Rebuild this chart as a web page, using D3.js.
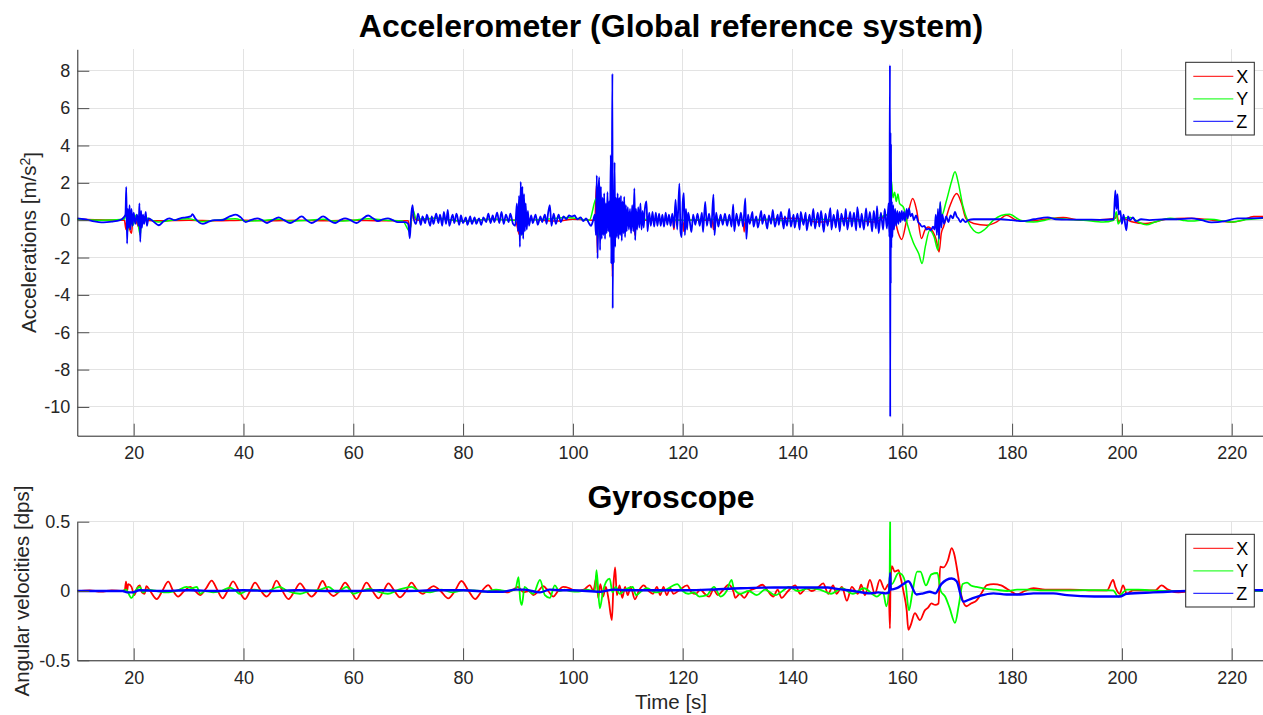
<!DOCTYPE html>
<html>
<head>
<meta charset="utf-8">
<script src="https://cdn.jsdelivr.net/npm/d3@7"></script>
<style>
  html, body { margin: 0; padding: 0; background: #fff; }
  svg { display: block; font-family: "Liberation Sans", Arial, Helvetica, sans-serif; }
  .grid line { stroke: #e3e3e3; stroke-width: 1; shape-rendering: crispEdges; }
  .axis path { stroke: #262626; stroke-width: 1; }
  .axis line { stroke: #4d4d4d; stroke-width: 1; }
  .axis text { fill: #262626; font-size: 18px; font-family: "Liberation Sans", Arial, sans-serif; }
  .title { font-weight: bold; font-size: 32px; fill: #000; }
  .label { font-size: 20.5px; fill: #262626; }
  .legend text { font-size: 18px; fill: #000; }
</style>
</head>
<body>
<svg id="chart" width="1263" height="715"></svg>
<script>
// tick values
const timeTicks = [20, 40, 60, 80, 100, 120, 140, 160, 180, 200, 220];
const accTicks = [-10, -8, -6, -4, -2, 0, 2, 4, 6, 8];
const gyroTicks = [-0.5, 0, 0.5];
const seriesNames = ['X', 'Y', 'Z'];
const seriesColors = ['#ff0000', '#00ff00', '#0000ff'];

// accelerometer [time s, m/s^2]
const accX = [
  [9.73,0.05],[13,0.02],[18.3,0],[18.6,-0.5],[18.8,0.3],[19.2,-0.4],[19.6,-0.7],[19.9,0.2],[20.5,-0.1],[21.2,-0.5],[21.5,0.2],[22,0],
  [25,-0.03],[30,0],[35,-0.03],[40,0],[45,-0.03],[50,0],[55,-0.03],[60,0],[65,-0.03],[70,-0.03],[70.3,-0.5],[70.8,0.3],[71.5,0],
  [75,0.1],[80,-0.05],[85,0.05],[89.5,0],[90.3,-0.8],[90.5,1.2],[90.7,0],[92,0.05],[97,-0.05],[100,0.05],[104,0],
  [104.3,1.87],[104.45,-1.77],[104.6,0.5],[104.8,-0.5],[105.0,0.5],[105.2,-0.5],[105.5,0.3],[106.0,-0.3],[106.8,0.8],[107.1,0],
  [107.2,-3.03],[107.35,0.5],[107.6,-0.4],[108,0.2],[108.5,-0.3],[109,0.2],[109.5,-0.3],[110,0.1],[111.1,0],[111.3,-0.8],[111.5,0],
  [113,0],[118.2,0],[118.4,-0.5],[118.6,0],[120.0,0],[120.2,-0.6],[120.4,0],[125.4,0],[125.6,-0.5],[125.8,0],[131.0,0],[131.2,-0.63],
  [131.4,0],[133,0],[140,0.1],[145,-0.1],[150,0.1],[155,-0.1],[157.5,0.3],[157.8,-0.5],
  [158.2,0.5],[158.6,0.1],[159.3,-0.71],[159.9,-1.03],[160.8,0],[161.9,1.16],[162.6,0.55],[163.5,-0.98],[164.1,-0.54],[164.7,-0.36],
  [165.6,-0.63],[166.2,-1.07],[166.7,-1.7],[167.1,-0.7],[167.5,-0.36],[168.6,0.71],[169.9,1.43],[170.8,0.89],[171.6,0.09],[173,-0.18],
  [175.4,-0.27],[177.2,-0.09],[179,0.27],[180.8,0],[183.3,-0.05],[186,0.05],[189.3,0.15],[192.3,0],[196,0.02],[198.8,0.1],[199.1,0.3],
  [199.4,-0.1],[200,0.1],[202,-0.1],[204,-0.18],[206,-0.1],[208,0.05],[212,0.1],[215,0.05],[218,-0.05],[220.3,-0.1],[222,0],[224,0.2],[225.7,0.2]
];
const accY = [
  [9.73,0.05],[14,0],[18.3,0.05],[18.7,0.4],[18.9,-0.6],[19.3,0.5],[19.8,-0.3],[20.5,0.3],[21.2,-0.8],[21.5,0.2],[22.5,0.1],[24.5,-0.1],
  [27,0],[30,0.08],[32.5,-0.08],[35,0],[38.5,0.08],[40.5,-0.05],[44,0],[46.5,0.05],[48.5,-0.05],[52,0],[54.5,0.05],[56.7,-0.05],[60,0],
  [62.7,0.08],[66,0],[69,-0.05],[70.3,-0.6],[70.8,0.6],[71.5,0.05],[75,0.1],[80,-0.05],[85,0.05],[89.5,0],[90.4,1.0],[90.7,-0.8],[91,0],
  [95,0.05],[99,0.15],[100.5,0.1],[103,0],[104.3,1.2],[104.5,-1.0],[105.5,1.07],[106,-0.5],[107.2,1.5],[107.4,-1.0],[108,0.3],[109,-0.2],
  [110,0],[115,0.05],[120,0],[125,0.05],[130,0],[135,0.05],[140,-0.05],[145,0.05],[150,-0.05],[155,0.05],[157.5,0.3],[157.7,-0.5],
  [157.8,4.7],[157.9,1.0],[158.0,2.14],[158.3,1.2],[158.6,1.5],[158.9,1.0],[159.2,1.4],[159.5,0.9],[160.2,0.7],[161.0,-0.3],[162.0,-1.2],
  [163.0,-1.8],[163.6,-2.32],[164.2,-1.4],[165.0,-0.54],[165.8,-0.9],[166.5,-1.6],[166.9,0.9],[167.1,0.2],[168.0,1.0],[169.0,2.1],
  [169.6,2.59],[170.2,2.0],[171.0,0.8],[172.0,-0.1],[173.0,-0.55],[173.9,-0.68],[175.0,-0.5],[176.6,0],[178,0.25],[179.5,0.32],[181.5,0],
  [183.9,-0.1],[186,0],[187.5,0.1],[190,0.05],[193,0],[196.6,-0.1],[198.5,0],[199,0.45],[199.3,-0.2],[200,0.1],[201.6,0.15],[203,-0.1],
  [204.5,-0.25],[206,-0.1],[208.8,0.1],[211,0],[212.5,-0.05],[216,0.05],[220.1,-0.1],[222,0],[225.7,0.1]
];
const accZ = [
  [9.73,0.1],[11,0.05],[12.5,-0.05],[14.5,-0.12],[16,-0.08],[17.5,0],[18.2,0.15],[18.5,0.3],[18.65,1.78],[18.8,-1.25],[18.95,0.6],
  [19.1,-0.4],[19.25,0.8],[19.4,-0.5],[19.6,0.6],[19.8,-0.3],[20.0,0.4],[20.3,-0.2],[20.6,0.3],[20.9,-0.3],[21.05,0.9],[21.2,-1.16],
  [21.35,0.5],[21.5,-0.4],[21.7,0.3],[21.9,-0.2],[22.2,0.45],[22.4,-0.3],[22.7,0.1],[23.3,0],[24.6,-0.27],[25.5,-0.05],[26.5,0.1],
  [27.5,0],[28.5,0.1],[29.5,0.15],[30.4,0.2],[30.7,0.32],[31.2,0.1],[32.6,-0.2],[33.5,-0.1],[34.7,0],[36,0],[37.5,0.2],[38.6,0.3],
  [39.5,0.15],[40.4,-0.1],[41.3,0],[42.5,0.1],[43.4,0],[44.3,-0.15],[45.3,0],[46.4,0.15],[47.4,0],[48.5,-0.15],[49.5,0],[50.6,0.2],
  [51.5,0],[52.4,-0.15],[53.4,0],[54.5,0.2],[55.6,0],[56.7,-0.15],[57.6,0],[58.5,0.1],[59.5,0],[60.6,-0.15],[61.6,0.05],[62.7,0.25],
  [63.6,0.1],[64.5,-0.05],[65.4,0.05],[66.3,0.1],[67.2,0],[68.1,-0.1],[69.5,-0.1],[70.0,-0.2],[70.3,-0.97],[70.5,0.1],[70.8,0.8],[71.0,0.1],
  [71.4,-0.2],[71.8,0.35],[72.3,-0.25],[72.6,0.2],[73.1,-0.15],[73.4,0.3],[74,-0.3],[74.3,0.2],[74.6,-0.2],[75.1,0.35],[75.5,-0.15],
  [75.8,0.3],[76.2,-0.3],[76.5,0.45],[76.9,-0.2],[77.2,0.55],[77.5,-0.3],[78.1,0.3],[78.4,-0.15],[78.8,0.35],[79.3,-0.25],[79.6,0.25],
  [80,-0.15],[80.5,0.15],[80.8,-0.25],[81.3,0.2],[81.6,-0.2],[82.1,0.15],[82.4,-0.2],[82.9,0.1],[83.3,-0.25],[83.7,0.15],[84.2,-0.1],
  [84.6,0.35],[85,-0.15],[85.4,0.25],[85.7,-0.1],[86.2,0.4],[86.6,-0.15],[87,0.45],[87.4,-0.2],[87.8,0.3],[88.3,-0.1],[88.6,0.35],
  [89.1,-0.2],[89.5,-0.3],[89.8,0.9],[90.0,-0.6],[90.2,1.3],[90.35,-1.43],[90.5,2.05],[90.65,-0.8],[90.8,1.8],[90.95,-1.0],[91.1,1.4],
  [91.25,-0.6],[91.4,0.9],[91.6,-0.5],[91.8,0.5],[92.0,-0.3],[92.4,0.25],[92.7,-0.15],[93.2,0.3],[93.6,-0.25],[94.1,0.2],[94.4,-0.1],
  [94.9,0.3],[95.2,-0.2],[95.5,0.4],[95.8,0.8],[96.1,-0.3],[96.5,0.35],[96.9,-0.2],[97.4,0.3],[97.8,-0.1],[98.3,0.2],[98.8,0.05],
  [99.3,0.25],[99.8,0.2],[100.3,0.25],[100.8,0.05],[101.4,0.15],[101.9,-0.05],[102.4,0.1],[102.9,-0.15],[103.3,-0.3],[103.7,0.0],
  [104.0,0.3],[104.2,-0.8],[104.35,2.4],[104.5,-2.05],[104.65,1.5],[104.8,2.3],
  [104.95,-1.6],[105.1,1.8],[105.25,-1.0],[105.4,1.2],[105.55,-0.8],[105.7,1.44],[105.85,-1.0],[106.0,0.9],[106.15,-0.7],[106.3,1.5],
  [106.45,-0.6],[106.6,1.0],[106.75,-0.9],[106.9,3.48],[107.0,-2.3],[107.1,2.0],[107.2,7.85],[107.25,-4.73],[107.35,1.5],[107.45,-2.3],
  [107.6,3.1],[107.7,-1.43],[107.85,1.2],[108.0,-0.9],[108.15,1.44],[108.3,-1.0],[108.45,1.2],[108.6,-0.8],[108.75,1.3],[108.9,-1.1],
  [109.05,1.0],[109.2,-0.7],[109.35,1.25],[109.5,-0.9],[109.65,0.8],[109.8,-0.6],[110.0,0.7],[110.2,-0.5],[110.4,0.6],[110.6,-0.7],
  [110.8,0.8],[111.0,-0.6],[111.2,1.7],[111.35,-1.07],[111.5,0.6],[111.7,-0.5],[111.9,0.7],[112.1,-0.4],[112.3,0.9],[112.5,-0.5],
  [112.7,0.5],[112.9,-0.4],[113.1,0.6],[113.4,1.0],[113.6,-0.6],[113.9,0.4],[114.2,-0.3],[114.5,0.45],[114.8,-0.35],[115.1,0.4],
  [115.4,-0.3],[115.7,0.35],[116.0,-0.3],[116.3,0.3],[116.6,-0.35],[116.9,0.4],[117.2,-0.25],[117.5,0.3],[117.8,-0.3],[118.1,0.35],
  [118.4,-0.4],[118.7,1.1],[119.0,-0.5],[119.4,1.96],[119.6,-0.6],[119.8,-0.9],[120.0,0.9],[120.2,1.45],[120.4,-0.8],[120.6,0.6],
  [120.8,-0.5],[121.0,0.4],[121.4,-0.3],[121.6,-0.63],[121.9,0.3],[122.3,-0.25],[122.7,0.35],[123.1,-0.3],[123.5,0.4],[123.7,-0.63],
  [124.1,0.98],[124.4,-0.3],[124.8,0.35],[125.2,-0.4],[125.6,1.37],[125.8,-0.8],[126.1,0.4],[126.5,-0.35],[126.9,0.3],[127.3,-0.25],
  [127.7,0.35],[128.1,-0.3],[128.5,0.3],[128.9,-0.35],[129.2,0.85],[129.4,-0.6],[129.8,0.35],[130.2,-0.3],[130.6,0.4],[131.0,-0.35],
  [131.4,1.16],[131.6,-1.0],[131.9,0.3],[132.2,-0.2],[132.7,0.45],[132.9,-0.35],[133.4,0.2],[133.7,-0.4],[134.3,0.5],[134.5,-0.2],
  [134.9,0.3],[135.4,-0.45],[135.7,0.25],[136.1,-0.2],[136.4,0.55],[136.8,-0.35],[137.3,0.3],[137.5,-0.25],[137.9,0.45],[138.4,-0.45],
  [138.6,0.2],[139.0,-0.3],[139.4,0.6],[139.7,-0.35],[140.2,0.3],[140.4,-0.4],[140.9,0.35],[141.3,-0.5],[141.5,0.45],[142.0,-0.25],
  [142.4,0.4],[142.6,-0.55],[143.1,0.3],[143.4,-0.3],[143.8,0.6],[144.1,-0.45],[144.6,0.4],[144.9,-0.35],[145.2,0.5],[145.7,-0.63],
  [146.0,0.35],[146.4,-0.3],[146.9,0.65],[147.1,-0.5],[147.5,0.3],[147.9,-0.4],[148.2,0.55],[148.6,-0.6],[148.9,0.35],[149.4,-0.3],
  [149.7,0.6],[150.0,-0.5],[150.5,0.45],[150.8,-0.35],[151.2,0.4],[151.6,-0.55],[151.8,0.7],[152.3,-0.4],[152.6,0.35],[153.0,-0.5],
  [153.4,0.63],[153.7,-0.3],[154.1,0.45],[154.5,-0.6],[154.8,0.5],[155.2,-0.45],[155.4,0.75],[155.7,-0.7],[156.1,0.4],[156.5,-0.5],
  [156.8,0.6],[157.2,-0.45],[157.5,0.9],[157.65,-0.9],[157.75,8.3],[157.8,-10.53],
  [157.85,4.7],[157.9,-3.4],[157.95,4.1],[158.0,-1.5],[158.1,1.0],[158.2,-0.9],[158.35,0.8],[158.5,-0.5],[158.7,0.6],[158.9,-0.3],
  [159.1,0.5],[159.3,-0.2],[159.5,0.45],[159.7,-0.1],[159.9,0.5],[160.1,0.0],[160.3,0.45],[160.5,-0.05],[160.8,0.6],[161.0,0.1],
  [161.2,0.63],[161.5,0.2],[161.8,0.35],[162.1,0.0],[162.5,0.25],[162.9,-0.1],[163.2,-0.2],[163.6,-0.35],[164.0,-0.3],[164.4,-0.5],
  [164.8,-0.45],[165.2,-0.54],[165.6,-0.35],[165.9,-0.5],[166.1,0.3],[166.3,-0.8],[166.5,0.6],[166.7,-1.0],[166.9,0.98],[167.1,-0.4],
  [167.3,0.3],[167.6,-0.2],[168.0,0.2],[168.4,-0.1],[168.8,0.25],[169.2,0.1],[169.6,0.45],[169.9,0.2],[170.2,0.1],[170.6,-0.1],
  [171.0,0.05],[171.5,-0.1],[172,0],[173,0.05],[175,0.05],[178,0.05],[180,0.0],[182,-0.05],[184,0.05],[186.5,0.15],[188,0.05],
  [190,0.03],[193,0.03],[196,0.02],[198.5,0.05],[198.8,1.6],[199.0,0.6],[199.2,1.4],[199.4,0.3],[199.7,0.5],[200.0,-0.2],[200.3,0.3],
  [200.8,-0.54],[201.1,0.2],[201.5,0.0],[202.0,0.15],[202.5,-0.05],[203.5,0.05],[205,0.0],[208,0.05],[210,0.05],[212.7,0.1],
  [214.5,0.0],[216.3,-0.12],[218.8,-0.05],[221,0.1],[223,0.1],[225.7,0.12]
];

// gyroscope [time s, dps]
const gyroX = [
  [9.73,0],[12,0.005],[14,-0.005],[16,0.005],[18,0],[18.4,0.01],[18.6,0.067],[18.8,0.0],[19.0,0.05],[19.6,0.03],[20.1,-0.03],[20.6,0.02],
  [21.1,0.04],[21.5,-0.01],[22,-0.02],[22.3,0.035],[23,0],[24.2,-0.058],[25.2,0],[26.3,0.067],[27.2,0],[28.1,-0.04],[29.2,0],[30.3,0.03],
  [31.2,0],[32.1,-0.03],[33.2,0.02],[34.2,0.075],[35.2,0.01],[36.2,-0.053],[37.1,0],[38.1,0.07],[39.2,0],[40.3,-0.058],[41.2,0],
  [42.1,0.06],[43.2,0],[44.2,-0.04],[45.1,0],[46.0,0.075],[47.1,0],[48.2,-0.058],[49.3,0],[50.3,0.055],[51.4,0],[52.4,-0.04],[53.4,0],
  [54.4,0.072],[55.4,0],[56.4,-0.036],[57.5,0],[58.5,0.06],[59.6,0],[60.6,-0.058],[61.5,0],[62.4,0.06],[63.5,0],[64.6,-0.053],[65.5,0],
  [66.4,0.055],[67.5,0],[68.5,-0.046],[69.6,0],[70.6,0.06],[71.6,0.01],[72.7,-0.02],[73.6,0.01],[74.6,0.035],[75.9,0],[77.3,-0.053],
  [78.5,0],[79.7,0.072],[81,0],[82.2,-0.058],[83.4,0],[84.6,0.043],[85.5,0],[86.5,0.005],[88,-0.01],[89.1,0.01],[90,0.03],[91,-0.01],
  [92,0],[92.8,-0.03],[93.7,0],[94.6,0.035],[95.5,0],[96.4,-0.04],[97.3,0],[98.2,0.03],[99.4,0.02],[100.5,0],[102,0.01],[103.1,0.043],
  [103.7,0],[104.3,0.1],[104.6,-0.05],[105,0.05],[105.5,-0.04],[106,0.03],[106.5,-0.06],[107.1,-0.21],[107.4,0.05],[107.7,0.17],
  [108,-0.03],[108.5,0.04],[109,-0.05],[109.5,0.03],[110,-0.03],[110.5,0.03],[111.3,-0.06],[112,0],[112.9,0.04],[113.8,0],[114.6,-0.02],
  [115.3,0.03],[115.9,-0.03],[116.5,0.03],[117.1,-0.03],[117.7,0.02],[118.3,-0.02],[119.5,0.01],[120.8,0.04],[121.6,-0.01],[122.4,-0.02],
  [123.2,0.01],[124,-0.02],[124.8,-0.04],[125.6,0.01],[126.4,-0.03],[127.2,0],[128.4,0.045],[129.2,0],[129.6,-0.05],[130.4,-0.02],
  [131.2,-0.05],[132.1,0],[133.3,0.02],[134.5,0.045],[135.5,0],[136.5,-0.04],[137.3,0.01],[138,-0.05],[139.2,0],[140.5,0.04],
  [141.4,-0.02],[142.5,0.02],[143.5,0],[144.5,0.02],[145.6,0.055],[146.5,-0.02],[147.4,0.04],[148,-0.02],[149,0.03],[149.9,-0.07],
  [150.8,0.03],[151.9,-0.02],[152.5,0.045],[153.2,-0.03],[154.1,0.08],[155,-0.02],[155.9,0.08],[156.8,0.01],[157.5,0.05],[157.75,-0.27],
  [157.85,0.05],[158.1,0.18],[158.6,0.14],[159.3,0.15],[159.6,0.11],[160.2,0.0],[160.8,-0.14],[161.1,-0.28],[161.5,-0.25],[162.3,-0.16],
  [163.2,-0.21],[164.1,-0.14],[164.7,-0.12],[165.3,-0.09],[166,-0.1],[166.6,-0.09],[166.9,0.175],[167.5,0.17],[168.3,0.22],[169.0,0.31],
  [169.5,0.26],[169.9,0.175],[170.4,0.05],[170.8,-0.04],[171.7,-0.11],[172.5,-0.09],[173.5,-0.07],[174.5,-0.01],[175.4,0.043],
  [176.6,0.05],[178,0.04],[179.1,0.015],[180.9,-0.024],[182.3,0],[183.9,0.02],[186,0.01],[187.5,0.01],[190.6,0.01],[194,0.005],
  [197.3,0.005],[198.4,0.08],[198.8,0.03],[199.6,-0.02],[200.2,0.04],[200.9,-0.02],[202,0.005],[206.1,0.005],[207.2,0.04],[208.4,0.01],
  [210.3,-0.01],[213,0],[218,0.005],[222,0],[225.7,0.005]
];
const gyroY = [
  [9.73,0],[18,0],[18.6,0.01],[19.6,-0.05],[20.3,0.0],[21.1,0.03],[21.7,-0.01],[22.5,0.01],[24.2,0],[26,-0.01],[28,0.005],[29.6,0.03],
  [30.5,0.02],[31.5,0.03],[32.1,-0.02],[33,0],[34.5,-0.01],[36,0],[37.5,0.025],[38.5,0.005],[39.3,-0.02],[40.5,0],[42,0.01],[44,-0.005],
  [46.5,0.03],[48,0],[50.3,-0.02],[52,0],[54,0.01],[55.5,0.03],[57,-0.01],[58.8,0.03],[60,-0.02],[61.5,0],[63,0.015],[64.5,-0.005],
  [66.3,-0.02],[68,0.005],[70.6,0.03],[72,0],[74,-0.01],[76,0.01],[78,-0.01],[80,0.005],[82,0.005],[84,-0.005],[86,0.01],[88,0],
  [89.5,0.01],[90.1,0.1],[90.4,-0.06],[90.7,-0.1],[91.2,0.03],[92,0.0],[92.8,-0.02],[94,0.08],[94.9,-0.03],[95.8,-0.05],[96.7,0.04],
  [97.5,0],[98.5,0.01],[99.5,0],[101,-0.005],[102.5,0.01],[104,0],[104.3,0.15],[104.9,-0.125],[105.5,0],[106.1,0.07],[106.7,0.09],
  [107.2,-0.01],[107.8,0.03],[108.5,-0.02],[109.5,0.01],[110.9,0.03],[111.5,-0.03],[112.5,0],[113.5,0.02],[115,-0.01],[117,0.01],
  [119,0.05],[120,0],[121,-0.02],[122,-0.01],[123,-0.04],[124.4,-0.03],[125.7,0.03],[126.9,-0.04],[128,0],[128.9,0.08],[129.3,0.02],
  [130.5,-0.02],[132,0],[133.5,-0.03],[135,0.01],[136.9,-0.03],[138.5,0.01],[139.3,0.03],[141,0],[143,0.02],[145,0.01],[147,-0.02],
  [149,0.02],[151,-0.02],[153,0.02],[155.4,-0.04],[156.5,-0.01],[157.1,-0.11],[157.7,0.1],[157.78,0.55],[157.82,0.06],[158.1,0.05],
  [159.3,0.13],[159.9,0.12],[160.6,0.05],[161.2,-0.14],[161.8,-0.02],[162.7,0.14],[163.3,0.14],[164.3,0.04],[165.3,0.12],[166.4,0.13],
  [167.0,0.0],[167.8,-0.04],[168.6,-0.12],[169.6,-0.23],[170.3,-0.1],[171.0,0.05],[171.8,0.06],[172.5,0.04],[173.5,0.03],[175.4,0.015],
  [177,0.01],[179.1,0],[180.9,0.01],[182.8,0.01],[185.2,0.005],[188,0.005],[191,0.005],[195,0.007],[198.4,0.005],[199.3,-0.04],
  [200.9,0.01],[203,0.01],[205,0.005],[210,0],[215,0],[220,0.005],[225.7,0]
];
const gyroZ = [
  [9.73,0],[18,0],[18.8,-0.01],[19.8,-0.01],[21,0.005],[25,0],[30,0.005],[35,0],[40,0.005],[45,0],[50,0.005],[55,0],[60,0],[65,0.005],
  [70,0],[75,0.005],[80,0.005],[85,-0.005],[87.3,-0.005],[89.5,0.01],[91,0.01],[94,-0.01],[95.8,0.01],[98,0.005],[100,0.005],
  [105,-0.005],[107.4,0.01],[110,0.005],[115,0.005],[120,0.005],[124.6,0.01],[130.6,0.02],[136.7,0.025],[142.8,0.025],[146.4,0.025],
  [148.1,0.015],[151.1,0.0],[154.1,-0.017],[155.6,-0.01],[157,-0.017],[157.6,-0.01],[157.8,0.13],[157.9,0.01],[159,0.02],[160.2,0.05],
  [161.1,0.07],[162.6,-0.025],[163.8,-0.017],[165,-0.005],[166,-0.017],[167.1,0.05],[169,0.09],[169.9,0.07],[171.1,-0.077],
  [172.3,-0.06],[174.1,-0.035],[176.6,-0.017],[179,-0.025],[181.5,-0.025],[183.9,-0.017],[187.5,-0.017],[190,-0.03],[195,-0.04],
  [199.6,-0.04],[200.9,-0.02],[205.7,-0.01],[211.8,0.0],[218,0.005],[225.7,0.005]
];

const svg = d3.select('#chart');
const xScale = d3.scaleLinear().domain([9.73, 225.7]).range([77.3, 1263]);

const panels = [
  {
    id: 'acc', top: 49.3, bottom: 435.7, domain: [-11.54, 9.15], ticks: accTicks,
    series: [accX, accY, accZ], widths: [1.5, 1.5, 1.8],
    title: 'Accelerometer (Global reference system)', titleY: 37,
    label: 'Accelerations [m/s', labelX: 36, legendTop: 62.3
  },
  {
    id: 'gyro', top: 521.7, bottom: 660.3, domain: [-0.5, 0.5], ticks: gyroTicks,
    series: [gyroX, gyroY, gyroZ], widths: [1.8, 1.8, 2.4],
    title: 'Gyroscope', titleY: 508,
    label: 'Angular velocities [dps]', labelX: 29, legendTop: 534.3
  }
];

panels.forEach(drawPanel);

svg.append('text')
  .attr('class', 'label')
  .attr('x', 671)
  .attr('y', 709)
  .attr('text-anchor', 'middle')
  .text('Time [s]');

function drawPanel(p) {
  const yScale = d3.scaleLinear().domain(p.domain).range([p.bottom, p.top]);
  const g = svg.append('g');

  // grid
  const grid = g.append('g').attr('class', 'grid');
  grid.selectAll('line.v')
    .data(timeTicks)
    .enter().append('line')
    .attr('x1', d => xScale(d)).attr('x2', d => xScale(d))
    .attr('y1', p.top).attr('y2', p.bottom);
  grid.selectAll('line.h')
    .data(p.ticks)
    .enter().append('line')
    .attr('x1', xScale.range()[0]).attr('x2', xScale.range()[1])
    .attr('y1', d => yScale(d)).attr('y2', d => yScale(d));

  // data lines
  svg.append('clipPath').attr('id', 'clip-' + p.id)
    .append('rect')
    .attr('x', xScale.range()[0]).attr('y', p.top)
    .attr('width', xScale.range()[1] - xScale.range()[0])
    .attr('height', p.bottom - p.top);

  const line = d3.line()
    .curve(d3.curveMonotoneX)
    .x(d => xScale(d[0]))
    .y(d => yScale(d[1]));
  g.append('g')
    .attr('clip-path', `url(#clip-${p.id})`)
    .selectAll('path')
    .data(p.series)
    .enter().append('path')
    .attr('fill', 'none')
    .attr('stroke', (d, i) => seriesColors[i])
    .attr('stroke-width', (d, i) => p.widths[i])
    .attr('stroke-linejoin', 'round')
    .attr('d', line);

  // axes (ticks inside, no box)
  g.append('g')
    .attr('class', 'axis')
    .attr('transform', `translate(0,${p.bottom})`)
    .call(d3.axisBottom(xScale).tickValues(timeTicks).tickSizeInner(-12).tickSizeOuter(0).tickPadding(11).tickFormat(d => String(d)));

  g.append('g')
    .attr('class', 'axis')
    .attr('transform', `translate(${xScale.range()[0]},0)`)
    .call(d3.axisLeft(yScale).tickValues(p.ticks).tickSizeInner(-12).tickSizeOuter(0).tickPadding(7).tickFormat(d => String(d)));

  g.selectAll('.axis text').attr('font-size', null).attr('font-family', null);

  // title
  g.append('text')
    .attr('class', 'title')
    .attr('x', 671)
    .attr('y', p.titleY)
    .attr('text-anchor', 'middle')
    .text(p.title);

  // y label
  const midY = (p.top + p.bottom) / 2;
  const lab = g.append('text')
    .attr('class', 'label')
    .attr('text-anchor', 'middle')
    .attr('transform', `translate(${p.labelX},${midY}) rotate(-90)`);
  lab.append('tspan').text(p.label);
  if (p.id === 'acc') {
    lab.append('tspan').attr('dy', '-0.45em').attr('font-size', '14px').text('2');
    lab.append('tspan').attr('dy', '0.45em').text(']');
  }

  // legend
  const leg = g.append('g').attr('class', 'legend').attr('transform', `translate(1185.7,${p.legendTop})`);
  leg.append('rect')
    .attr('width', 68.6).attr('height', 72.7)
    .attr('fill', '#fff').attr('stroke', '#262626').attr('stroke-width', 1);
  const rowY = [14, 36.5, 59];
  seriesNames.forEach((name, i) => {
    leg.append('line')
      .attr('x1', 7.6).attr('x2', 47.6)
      .attr('y1', rowY[i]).attr('y2', rowY[i])
      .attr('stroke', seriesColors[i]).attr('stroke-width', 1.2).attr('opacity', 0.8);
    leg.append('text')
      .attr('x', 50.5).attr('y', rowY[i] + 6.5)
      .text(name);
  });
}
</script>
</body>
</html>
